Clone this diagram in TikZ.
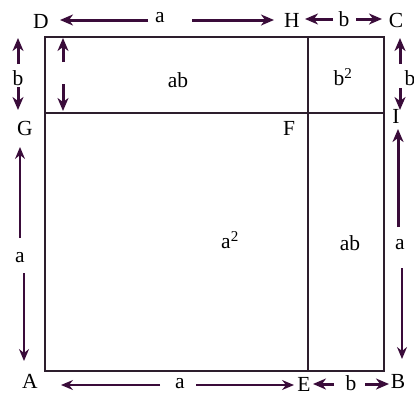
\documentclass[tikz,border=0pt]{standalone}
\usepackage{fontspec}
\setmainfont{Liberation Serif}
\usetikzlibrary{arrows.meta}
\definecolor{edge}{RGB}{45,30,45}
\definecolor{arrc}{RGB}{58,12,58}
\begin{document}
\begin{tikzpicture}[x=1pt,y=-1pt,
  lbl/.style={font=\fontsize{21.5}{21.5}\selectfont, inner sep=0pt, text=black},
  arr/.style={draw=arrc, line width=3pt, -{Stealth[length=13pt,width=11pt,inset=4pt]}},
  thinarr/.style={draw=arrc, line width=1.5pt, -{Stealth[length=12pt,width=10pt,inset=4pt]}},
  sq/.style={draw=edge, line width=2pt},
  inner/.style={draw=edge, line width=1.5pt}]
\useasboundingbox (0,0) rectangle (414,402);
% main square
\draw[sq] (45,37) rectangle (384,371);
\draw[inner] (308,37) -- (308,371);
\draw[inner] (45,113) -- (384,113);
% labels
\node[lbl] (D) at (41,21) {D};
\node[lbl] (ta) at (160,18) {a};
\node[lbl] (H) at (292,20) {H};
\node[lbl] (tb) at (344,19) {b};
\node[lbl] (C) at (396,20) {C};
\node[lbl] (G) at (25,128) {G};
\node[lbl] (F) at (289,128) {F};
\node[lbl] (I) at (396,116) {I};
\node[lbl] (A) at (30,381) {A};
\node[lbl] (ba) at (180,384) {a};
\node[lbl] (E) at (304,384) {E};
\node[lbl] (bb) at (351,383) {b};
\node[lbl] (B) at (398,381) {B};
\node[lbl] (lb) at (18,78) {b};
\node[lbl] (la) at (20,258) {a};
\node[lbl] (rb) at (410,78) {b};
\node[lbl] (ra) at (400,245) {a};
\node[lbl] (ab1) at (178,80) {ab};
\node[lbl] (bsq) at (343,77) {b\textsuperscript{2}};
\node[lbl] (asq) at (230,240) {a\textsuperscript{2}};
\node[lbl] (ab2) at (350,243) {ab};
% arrow endpoints
\coordinate (t1s) at (148,20); \coordinate (t1e) at (60,20);
\coordinate (t2s) at (192,20); \coordinate (t2e) at (274,20);
\coordinate (t3s) at (333,19); \coordinate (t3e) at (305,19);
\coordinate (t4s) at (356,19); \coordinate (t4e) at (382,19);
\coordinate (l1s) at (18,64);  \coordinate (l1e) at (18,38);
\coordinate (l2s) at (18,87);  \coordinate (l2e) at (18,110);
\coordinate (i1s) at (63,62);  \coordinate (i1e) at (63,38);
\coordinate (i2s) at (63,84);  \coordinate (i2e) at (63,111);
\coordinate (l3s) at (20,238); \coordinate (l3e) at (20,147);
\coordinate (l4s) at (24,273); \coordinate (l4e) at (24,361);
\coordinate (r1s) at (400,64); \coordinate (r1e) at (400,38);
\coordinate (r2s) at (400,88); \coordinate (r2e) at (400,110);
\coordinate (r3s) at (398,227);\coordinate (r3e) at (398,129);
\coordinate (r4s) at (402,268);\coordinate (r4e) at (402,359);
\coordinate (b1s) at (160,385);\coordinate (b1e) at (61,385);
\coordinate (b2s) at (196,385);\coordinate (b2e) at (294,385);
\coordinate (b3s) at (334,384);\coordinate (b3e) at (313,384);
\coordinate (b4s) at (365,384);\coordinate (b4e) at (389,384);
% arrows
\draw[arr] (t1s) -- (t1e);
\draw[arr] (t2s) -- (t2e);
\draw[arr] (t3s) -- (t3e);
\draw[arr] (t4s) -- (t4e);
\draw[arr] (l1s) -- (l1e);
\draw[arr] (l2s) -- (l2e);
\draw[arr] (i1s) -- (i1e);
\draw[arr] (i2s) -- (i2e);
\draw[thinarr] (l3s) -- (l3e);
\draw[thinarr] (l4s) -- (l4e);
\draw[arr] (r1s) -- (r1e);
\draw[arr] (r2s) -- (r2e);
\draw[arr] (r3s) -- (r3e);
\draw[thinarr] (r4s) -- (r4e);
\draw[thinarr] (b1s) -- (b1e);
\draw[thinarr] (b2s) -- (b2e);
\draw[arr] (b3s) -- (b3e);
\draw[arr] (b4s) -- (b4e);
\end{tikzpicture}
\end{document}
